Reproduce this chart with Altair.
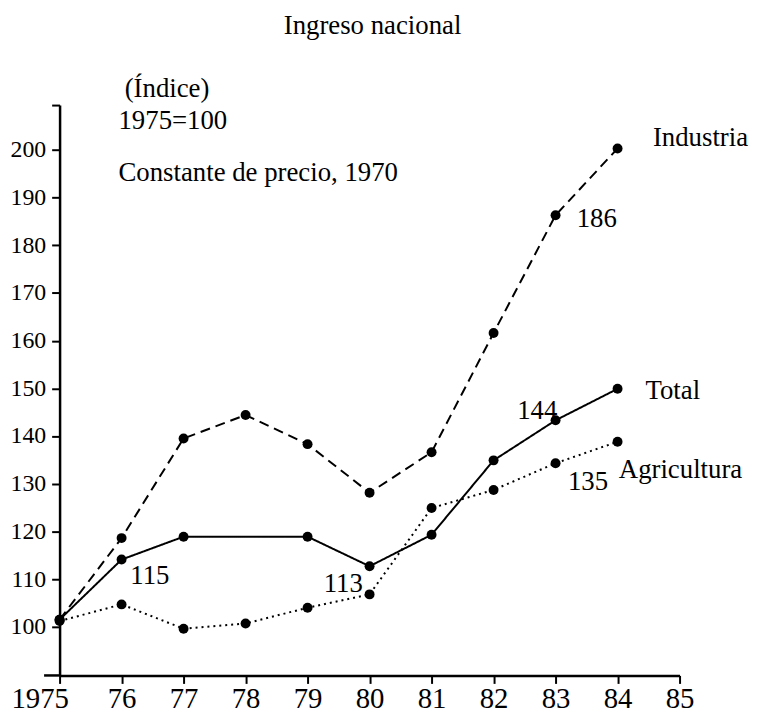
import altair as alt
import pandas as pd

years_total = [1975, 1976, 1977, 1979, 1980, 1981, 1982, 1983, 1984]
total = [101.5, 114.1, 118.9, 118.9, 112.7, 119.3, 134.9, 143.3, 149.9]

years_ind = [1975, 1976, 1977, 1978, 1979, 1980, 1981, 1982, 1983, 1984]
industria = [101.5, 118.6, 139.5, 144.4, 138.3, 128.1, 136.6, 161.6, 186.3, 200.3]

years_agr = [1975, 1976, 1977, 1978, 1979, 1980, 1981, 1982, 1983, 1984]
agricultura = [101.2, 104.7, 99.6, 100.7, 104.0, 106.8, 124.9, 128.7, 134.3, 138.8]

series_names = ["Industria", "Total", "Agricultura"]

# annotation texts and their positions (data units)
ann_text = ["(Índice)", "1975=100", "Constante de precio, 1970",
            "Industria", "Total", "Agricultura",
            "115", "113", "186", "144", "135"]
ann_x = [1976.05, 1975.95, 1975.95,
         1984.57, 1984.45, 1984.02,
         1976.14, 1979.26, 1983.34, 1982.38, 1983.20]
ann_y = [212.7, 206.0, 195.2,
         202.4, 149.5, 132.95,
         110.6, 108.9, 185.55, 145.2, 130.35]

rows = []
for s, ys, vs in zip(series_names, [years_ind, years_total, years_agr],
                     [industria, total, agricultura]):
    for y, v in zip(ys, vs):
        rows.append({"serie": s, "year": y, "value": v})
df = pd.DataFrame(rows)
ann = pd.DataFrame({"text": ann_text, "x": ann_x, "y": ann_y})

FONT = "Liberation Serif"
YMIN, YMAX = 89.8, 209.4

xscale = alt.Scale(domain=[1975, 1985], nice=False, zero=False)
yscale = alt.Scale(domain=[YMIN, YMAX], nice=False, zero=False)

xaxis = alt.Axis(values=list(range(1975, 1986)), title=None, grid=False,
                 labelExpr="datum.value == 1975 ? '1975' : slice(toString(datum.value), 2)",
                 labelFlush=False,
                 labelOffset={"condition": {"test": "datum.value === 1975", "value": -20}, "value": 0},
                 labelFont=FONT, labelFontSize=29, labelColor="black",
                 tickColor="black", tickSize=8, tickWidth=2,
                 domainColor="black", domainWidth=2.5, labelPadding=1)
yaxis = alt.Axis(values=[100, 110, 120, 130, 140, 150, 160, 170, 180, 190, 200, YMAX],
                 title=None, grid=False,
                 labelExpr="datum.value > 200 ? '' : datum.label",
                 labelFont=FONT, labelFontSize=24, labelColor="black",
                 tickColor="black", tickSize=8, tickWidth=2,
                 domainColor="black", domainWidth=2.5, labelPadding=6)

dash_scale = alt.Scale(domain=series_names, range=[[10, 6], [1, 0], [2, 4]])

base = alt.Chart(df)
lines = base.mark_line(color="black", strokeWidth=2).encode(
    x=alt.X("year:Q", scale=xscale, axis=xaxis),
    y=alt.Y("value:Q", scale=yscale, axis=yaxis),
    strokeDash=alt.StrokeDash("serie:N", scale=dash_scale, legend=None),
    detail="serie:N",
)
points = base.mark_point(filled=True, color="black", size=100, opacity=1).encode(
    x=alt.X("year:Q", scale=xscale),
    y=alt.Y("value:Q", scale=yscale),
)
texts = alt.Chart(ann).mark_text(font=FONT, fontSize=27, align="left",
                                 baseline="middle", color="black").encode(
    x=alt.X("x:Q", scale=xscale),
    y=alt.Y("y:Q", scale=yscale),
    text="text:N",
)
xline = alt.Chart(pd.DataFrame({"a": [1974.75], "b": [1975.0], "c": [YMIN]})).mark_rule(
    color="black", strokeWidth=2.5).encode(
    x=alt.X("a:Q", scale=xscale), x2="b:Q", y=alt.Y("c:Q", scale=yscale))

chart = alt.layer(xline, lines, points, texts).properties(
    width=625, height=575,
    title=alt.TitleParams("Ingreso nacional", font=FONT, fontSize=27,
                          fontWeight="normal", color="black", anchor="middle",
                          frame="group", baseline="alphabetic", offset=15, dx=3),
    autosize="none",
    padding={"left": 52, "top": 95, "right": 70, "bottom": 36},
).configure_view(stroke=None)

chart.save("out.html", embed_options={"renderer": "svg", "actions": False})
